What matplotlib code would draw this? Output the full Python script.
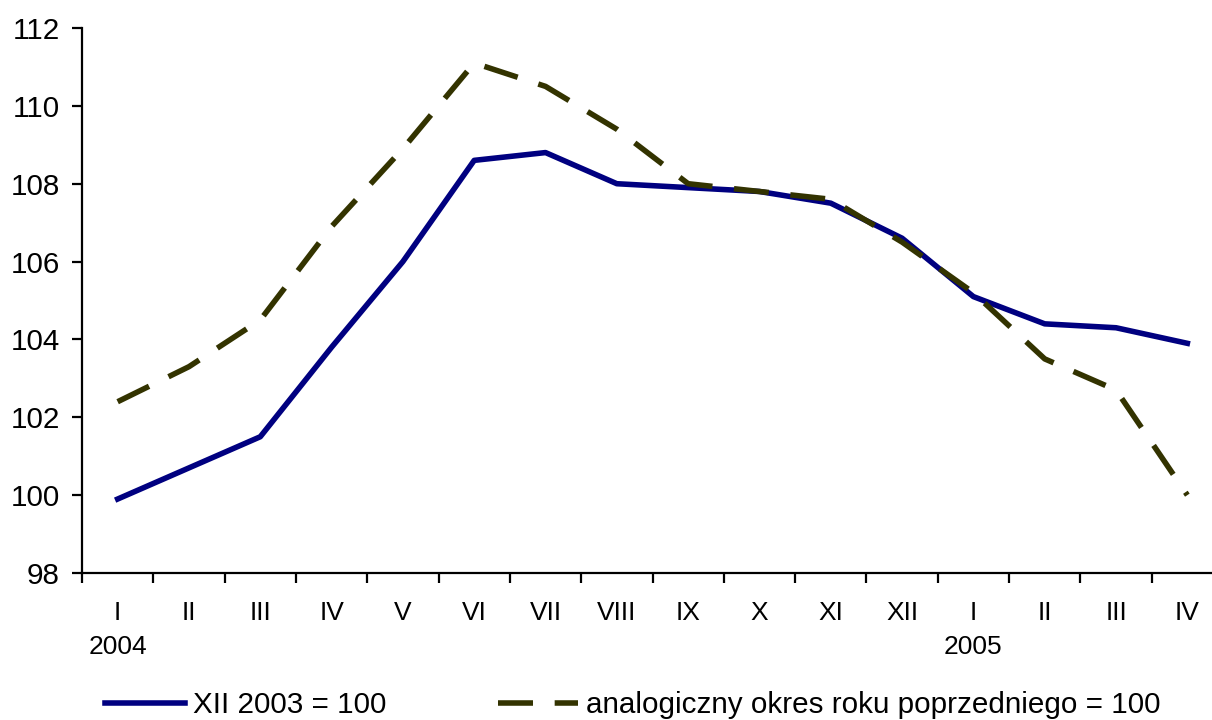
import numpy as np
import matplotlib
matplotlib.use('Agg')
import matplotlib.pyplot as plt

plt.rcParams['font.family'] = ['Liberation Sans', 'DejaVu Sans']

MONTHS = ['I', 'II', 'III', 'IV', 'V', 'VI', 'VII', 'VIII', 'IX', 'X', 'XI', 'XII',
          'I', 'II', 'III', 'IV']
YEARS = {0: '2004', 12: '2005'}

XII_2003 = [99.9, 100.7, 101.5, 103.8, 106.0, 108.6, 108.8, 108.0,
            107.9, 107.8, 107.5, 106.6, 105.1, 104.4, 104.3, 103.9]
PREV_YEAR = [102.4, 103.3, 104.5, 106.9, 108.9, 111.1, 110.5, 109.4,
             108.0, 107.8, 107.6, 106.5, 105.2, 103.5, 102.7, 100.0]

LABELS = ['XII 2003 = 100', 'analogiczny okres roku poprzedniego = 100']


def main():
    fig = plt.figure(figsize=(12.12, 7.2), dpi=100)
    ax = fig.add_axes([82 / 1212, 147 / 720, 1141 / 1212, 545 / 720])

    xs = np.arange(len(MONTHS))
    ax.plot(xs, XII_2003, color='#000080', lw=4, label=LABELS[0])
    ax.plot(xs, PREV_YEAR, color='#333300', lw=4, dashes=(6.3, 3.9),
            label=LABELS[1])

    ax.set_xlim(-0.5, len(MONTHS) - 0.5)
    ax.set_ylim(98, 112)
    ax.set_yticks(np.arange(98, 113, 2))

    ax.set_xticks(xs)
    ax.set_xticklabels(MONTHS)
    ax.set_xticks(np.arange(-0.5, len(MONTHS)), minor=True)
    ax.tick_params(axis='x', which='major', length=0, pad=20, labelsize=19)
    ax.tick_params(axis='x', which='minor', length=7, width=1.6, direction='out')
    ax.tick_params(axis='y', length=7, width=1.6, pad=9, labelsize=21.3)

    for side in ('top', 'right'):
        ax.spines[side].set_visible(False)
    for side in ('left', 'bottom'):
        ax.spines[side].set_linewidth(1.6)

    # year labels under January
    for pos, year in YEARS.items():
        ax.text(pos, -0.135, year, transform=ax.get_xaxis_transform(),
                ha='center', va='center', fontsize=19)

    fig.legend(loc='center', bbox_to_anchor=(0.522, 0.021), ncol=2,
               frameon=False, fontsize=21.3, handlelength=2.7,
               handletextpad=0.25, columnspacing=3.8, borderaxespad=0)

    fig.savefig('out.png', dpi=100)


if __name__ == '__main__':
    main()
